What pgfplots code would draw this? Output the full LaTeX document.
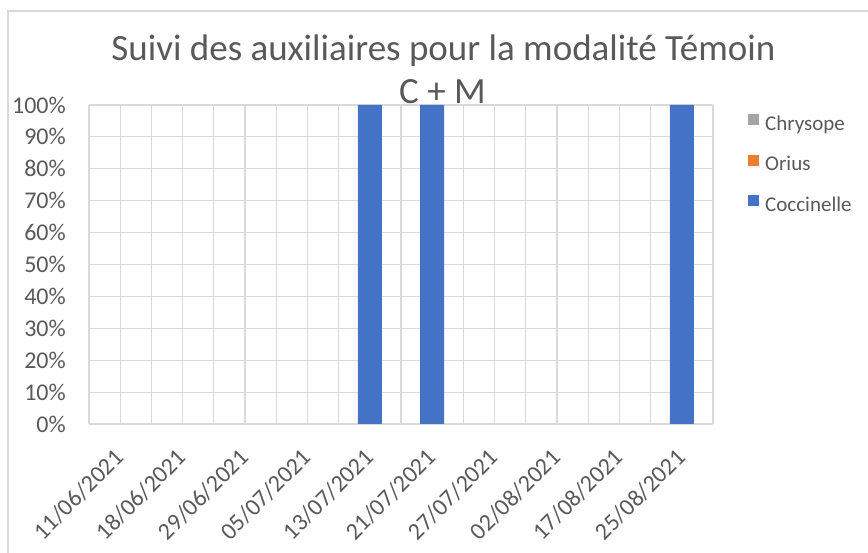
\documentclass[border=0pt]{standalone}
\usepackage{fontspec}
\setmainfont{Carlito}
\usepackage{pgfplots}
\pgfplotsset{compat=1.18}
\definecolor{cblue}{HTML}{4472C4}
\definecolor{corange}{HTML}{ED7D31}
\definecolor{cgray}{HTML}{A5A5A5}
\definecolor{gridc}{HTML}{D9D9D9}
\definecolor{txt}{HTML}{595959}
\begin{document}
\begin{tikzpicture}
\useasboundingbox (0bp,0bp) rectangle (868bp,553bp);
\draw[gridc, line width=1.2bp] (8bp,0bp) -- (8bp,542bp) -- (868bp,542bp);
\node[anchor=base, text=txt, font=\fontsize{37bp}{44bp}\selectfont, inner sep=0pt] at (443.5bp,492bp) {Suivi des auxiliaires pour la modalité Témoin};
\node[anchor=base, text=txt, font=\fontsize{37bp}{44bp}\selectfont, inner sep=0pt] at (442.5bp,449bp) {C + M};
\begin{axis}[
  at={(89bp,129bp)}, anchor=south west, scale only axis,
  width=624bp, height=319bp,
  ybar stacked, bar width=24bp,
  xmin=-0.5, xmax=9.5, ymin=0, ymax=1,
  xtick={0,1,2,3,4,5,6,7,8,9},
  xticklabels={11/06/2021,18/06/2021,29/06/2021,05/07/2021,13/07/2021,21/07/2021,27/07/2021,02/08/2021,17/08/2021,25/08/2021},
  minor xtick={-0.5,0.5,1.5,2.5,3.5,4.5,5.5,6.5,7.5,8.5,9.5},
  ytick={0,0.1,0.2,0.3,0.4,0.5,0.6,0.7,0.8,0.9,1},
  yticklabels={0\%,10\%,20\%,30\%,40\%,50\%,60\%,70\%,80\%,90\%,100\%},
  xmajorgrids, xminorgrids, ymajorgrids,
  major grid style={gridc, line width=1.1bp},
  minor grid style={gridc, line width=1.1bp},
  axis line style={draw=none},
  major tick length=0pt, minor tick length=0pt,
  tick style={draw=none},
  ticklabel style={font=\fontsize{24bp}{28bp}\selectfont, text=txt},
  yticklabel style={anchor=east, inner sep=0pt, xshift=-23bp},
  xticklabel style={inner sep=0pt, anchor=base east, xshift=5bp, yshift=-35bp, rotate=45},
  legend style={at={(1.0561,0.9718)}, anchor=north west, draw=none, fill=none,
    font=\fontsize{21bp}{25bp}\selectfont, text=txt, inner sep=0pt,
    row sep=20.5bp, column sep=6bp,
    nodes={inner sep=0pt, text height=14bp, text depth=4bp}},
  legend cell align=left,
  reverse legend,
  legend image code/.code={\fill[#1] (0bp,0bp) rectangle (11bp,11bp);},
]
\addplot[fill=cblue, draw=none] coordinates {(0,0) (1,0) (2,0) (3,0) (4,1) (5,1) (6,0) (7,0) (8,0) (9,1)};
\addlegendentry{Coccinelle}
\addplot[fill=corange, draw=none] coordinates {(0,0) (1,0) (2,0) (3,0) (4,0) (5,0) (6,0) (7,0) (8,0) (9,0)};
\addlegendentry{Orius}
\addplot[fill=cgray, draw=none] coordinates {(0,0) (1,0) (2,0) (3,0) (4,0) (5,0) (6,0) (7,0) (8,0) (9,0)};
\addlegendentry{Chrysope}
\end{axis}
\end{tikzpicture}
\end{document}
